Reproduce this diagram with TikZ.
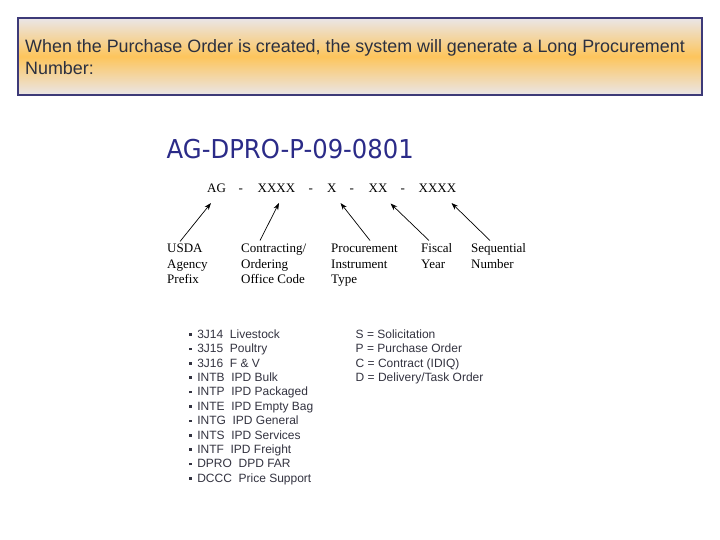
\documentclass[tikz,border=0pt]{standalone}
\usepackage{fontspec}
\setmainfont{Liberation Serif}
\newfontfamily\arialf{Liberation Sans}
\newfontfamily\dejavuf{DejaVu Sans}
\usetikzlibrary{arrows.meta}
\definecolor{frameblue}{HTML}{3D3A78}
\definecolor{headtxt}{HTML}{2B3040}
\definecolor{bigblue}{HTML}{2B2B88}
\definecolor{listtxt}{HTML}{333340}
\definecolor{shadetop}{HTML}{EAE6E8}
\definecolor{shademid}{HTML}{FDC55C}
\tikzset{
  headbox/.style={draw=frameblue, line width=2pt, top color=shadetop, bottom color=shadetop, middle color=shademid},
  headline/.style={anchor=base west, inner sep=0pt, text=headtxt, font=\arialf\fontsize{17.9}{20}\selectfont},
  bignum/.style={anchor=base west, inner sep=0pt, text=bigblue, font=\dejavuf\fontsize{26}{30}\selectfont},
  pattern/.style={anchor=base west, inner sep=0pt, font=\fontsize{13}{15}\selectfont},
  fieldlabel/.style={anchor=base west, inner sep=0pt, font=\fontsize{13}{15.3}\selectfont},
  listline/.style={anchor=base west, inner sep=0pt, text=listtxt, font=\arialf\fontsize{12}{14.4}\selectfont},
  pointer/.style={-{Stealth[length=7pt,width=5pt]}, line width=0.7pt},
}
\newcommand{\sqbul}{\raisebox{2.6pt}{\rule{2.6pt}{2.6pt}}}
\begin{document}
\begin{tikzpicture}[x=1pt,y=-1pt]
\useasboundingbox (0,0) rectangle (720,540);
% header
\path[headbox] (18,18) rectangle (702,95);
\node[headline] (h1) at (25,52.7) {When the Purchase Order is created, the system will generate a Long Procurement};
\node[headline] (h2) at (25,74.3) {Number:};
% big number
\node[bignum] (big) at (166.5,158.3) {\scalebox{0.935}[1]{AG-DPRO-P-09-0801}};
% pattern row
\node[pattern] (pAG) at (207,192.5) {AG};
\node[pattern] (d1) at (238.5,192.5) {-};
\node[pattern] (pX4a) at (257.5,192.5) {XXXX};
\node[pattern] (d2) at (308.5,192.5) {-};
\node[pattern] (pX1) at (327,192.5) {X};
\node[pattern] (d3) at (349.5,192.5) {-};
\node[pattern] (pX2) at (368.5,192.5) {XX};
\node[pattern] (d4) at (400.5,192.5) {-};
\node[pattern] (pX4b) at (418.5,192.5) {XXXX};
% labels
\node[fieldlabel] (lUSDA1) at (167,252.7) {USDA};
\node[fieldlabel] (lUSDA2) at (167,268) {Agency};
\node[fieldlabel] (lUSDA3) at (167,283.3) {Prefix};
\node[fieldlabel] (lCont1) at (241,252.7) {Contracting/};
\node[fieldlabel] (lCont2) at (241,268) {Ordering};
\node[fieldlabel] (lCont3) at (241,283.3) {Office Code};
\node[fieldlabel] (lProc1) at (331,252.7) {Procurement};
\node[fieldlabel] (lProc2) at (331,268) {Instrument};
\node[fieldlabel] (lProc3) at (331,283.3) {Type};
\node[fieldlabel] (lFisc1) at (421,252.7) {Fiscal};
\node[fieldlabel] (lFisc2) at (421,268) {Year};
\node[fieldlabel] (lSeq1) at (471,252.7) {Sequential};
\node[fieldlabel] (lSeq2) at (471,268) {Number};
% arrow endpoints
\coordinate (t1) at (180,241.5); \coordinate (a1) at (211,203);
\coordinate (t2) at (260,240.5); \coordinate (a2) at (279,203);
\coordinate (t3) at (370,240.5); \coordinate (a3) at (340.5,203);
\coordinate (t4) at (429,240.5); \coordinate (a4) at (390.5,203.5);
\coordinate (t5) at (490,240.5); \coordinate (a5) at (451.5,203);
\draw[pointer] (t1) -- (a1);
\draw[pointer] (t2) -- (a2);
\draw[pointer] (t3) -- (a3);
\draw[pointer] (t4) -- (a4);
\draw[pointer] (t5) -- (a5);
% office code list
\foreach \n/\txt [count=\i from 0] in {
  b1/{3J14\ \ Livestock},
  b2/{3J15\ \ Poultry},
  b3/{3J16\ \ F \& V},
  b4/{INTB\ \ IPD Bulk},
  b5/{INTP\ \ IPD Packaged},
  b6/{INTE\ \ IPD Empty Bag},
  b7/{INTG\ \ IPD General},
  b8/{INTS\ \ IPD Services},
  b9/{INTF\ \ IPD Freight},
  b10/{DPRO\ \ DPD FAR},
  b11/{DCCC\ \ Price Support}}
{
  \node[listline] (\n) at (189,338.3+14.4*\i) {\sqbul\hspace{5.5pt}\txt};
}
% instrument types
\node[listline] (s1) at (355.5,338.3) {S = Solicitation};
\node[listline] (s2) at (355.5,352.7) {P = Purchase Order};
\node[listline] (s3) at (355.5,367.1) {C = Contract (IDIQ)};
\node[listline] (s4) at (355.5,381.5) {D = Delivery/Task Order};
\end{tikzpicture}
\end{document}
